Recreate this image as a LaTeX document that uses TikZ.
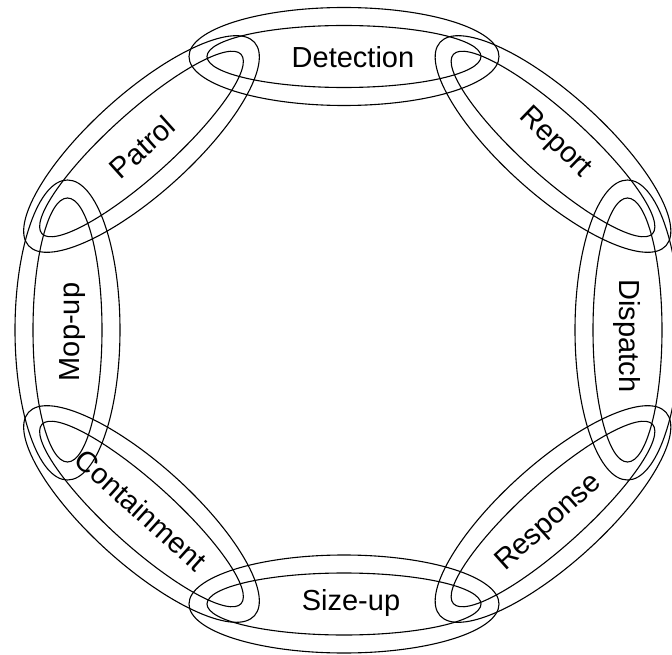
\documentclass[tikz,border=0pt]{standalone}
\usepackage{fontspec}
\setmainfont{Liberation Sans}
\begin{document}
\begin{tikzpicture}[x=1pt,y=-1pt,
  ring/.style={draw=black, line width=1.1pt},
  lbl/.style={font=\fontsize{29}{32}\selectfont, inner sep=0pt}]
\useasboundingbox (0,0) rectangle (672,655);
% links: centre x / centre y / angle / outer a / outer b
\foreach \cx/\cy/\ang/\a/\b in {
  344/56.5/0/155/49,
  344/604/0/155/49,
  67.5/330/90/150/52.5,
  627.5/330/90/150/52.5,
  141.5/144/42/152/50,
  553/144/-42/152/50,
  141.5/514/-42/152/50,
  553/514/42/152/50}{
  \begin{scope}[shift={(\cx,\cy)}, rotate=\ang]
    \draw[ring] (0,0) ellipse [x radius=\a pt, y radius=\b pt];
    \draw[ring] (0,0) ellipse [x radius=\a pt-18pt, y radius=\b pt-18pt];
  \end{scope}
}
\node[lbl] (detection) at (353,57) {Detection};
\node[lbl, rotate=-44] (report) at (555,143) {Report};
\node[lbl, rotate=-90] (dispatch) at (627,336) {Dispatch};
\node[lbl, rotate=42] (response) at (549,523) {Response};
\node[lbl] (sizeup) at (351,603) {Size-up};
\node[lbl, rotate=-42] (containment) at (141,510) {Containment};
\node[lbl, rotate=90] (mopup) at (73,332) {Mop-up};
\node[lbl, rotate=42] (patrol) at (142,147) {Patrol};
\end{tikzpicture}
\end{document}
